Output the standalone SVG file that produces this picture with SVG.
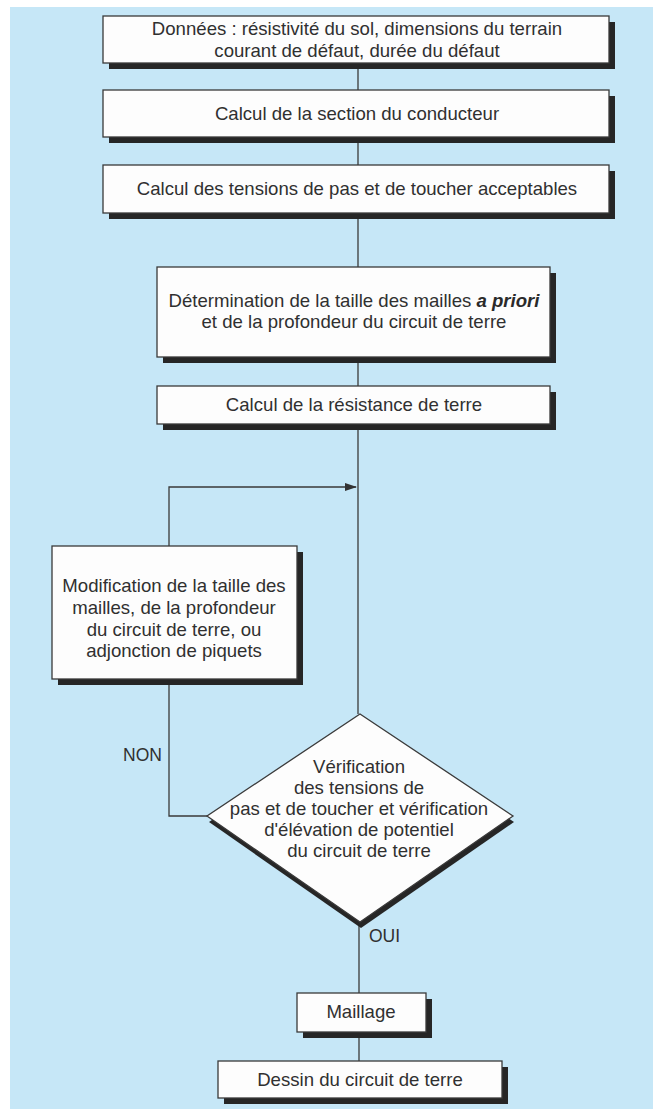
<svg xmlns="http://www.w3.org/2000/svg" width="662" height="1111" viewBox="0 0 662 1111">
<defs>
<style>
.bg{fill:#c6e7f7}
.box{fill:#fdfdfd;stroke:#3a3a3a;stroke-width:1.3}
.sh{fill:#262626}
.ln{fill:none;stroke:#3a3a3a;stroke-width:1.3}
text{font-family:"Liberation Sans",Arial,sans-serif;font-size:18.6px;fill:#303030;text-anchor:middle}
.lbl{font-size:17.5px}
.bi{font-weight:bold;font-style:italic;fill:#2a2a2a}
</style>
<marker id="arr" markerWidth="12" markerHeight="8" refX="11" refY="4" orient="auto" markerUnits="userSpaceOnUse">
<path d="M0,0 L12,4 L0,8 z" fill="#333"/>
</marker>
</defs>
<rect x="0" y="0" width="662" height="1111" fill="#ffffff"/>
<rect class="bg" x="10" y="7" width="643" height="1102"/>

<g id="connectors">
<line class="ln" x1="358" y1="63" x2="358" y2="90"/>
<line class="ln" x1="358" y1="137" x2="358" y2="165"/>
<line class="ln" x1="358" y1="213" x2="358" y2="267"/>
<line class="ln" x1="358" y1="357" x2="358" y2="386"/>
<line class="ln" x1="358" y1="424" x2="358" y2="714"/>
<polyline class="ln" points="169,546 169,487 356,487" marker-end="url(#arr)"/>
<polyline class="ln" points="207,816 169,816 169,679"/>
<line class="ln" x1="359" y1="922" x2="359" y2="993"/>
<line class="ln" x1="359" y1="1032" x2="359" y2="1061"/>
<text class="lbl" x="162" y="761" style="text-anchor:end">NON</text>
<text class="lbl" x="369" y="942" style="text-anchor:start">OUI</text>
</g>

<g id="n1">
<rect class="sh" x="109" y="22" width="506" height="47"/>
<rect class="box" x="103" y="16" width="506" height="47"/>
<text x="357" y="35">Données : résistivité du sol, dimensions du terrain</text>
<text x="357" y="57">courant de défaut, durée du défaut</text>
</g>

<g id="n2">
<rect class="sh" x="109" y="96" width="506" height="47"/>
<rect class="box" x="103" y="90" width="506" height="47"/>
<text x="357" y="120">Calcul de la section du conducteur</text>
</g>

<g id="n3">
<rect class="sh" x="109" y="171" width="506" height="48"/>
<rect class="box" x="103" y="165" width="506" height="48"/>
<text x="357" y="195">Calcul des tensions de pas et de toucher acceptables</text>
</g>

<g id="n4">
<rect class="sh" x="163" y="273" width="393" height="90"/>
<rect class="box" x="157" y="267" width="393" height="90"/>
<text x="354" y="307">Détermination de la taille des mailles <tspan class="bi">a priori</tspan></text>
<text x="354" y="328">et de la profondeur du circuit de terre</text>
</g>

<g id="n5">
<rect class="sh" x="163" y="392" width="393" height="38"/>
<rect class="box" x="157" y="386" width="393" height="38"/>
<text x="354" y="411">Calcul de la résistance de terre</text>
</g>

<g id="n6">
<rect class="sh" x="58" y="552" width="245" height="133"/>
<rect class="box" x="52" y="546" width="245" height="133"/>
<text x="174" y="592">Modification de la taille des</text>
<text x="174" y="614">mailles, de la  profondeur</text>
<text x="174" y="636">du circuit de terre, ou</text>
<text x="174" y="657">adjonction de piquets</text>
</g>

<g id="n7">
<polygon class="sh" points="362,720 514,822 361,928 209,822"/>
<polygon class="box" points="360,714 513,816 360,922 207,816"/>
<text x="359" y="773">Vérification</text>
<text x="359" y="794">des tensions de</text>
<text x="359" y="815">pas et de toucher et vérification</text>
<text x="359" y="836">d'élévation de potentiel</text>
<text x="359" y="857">du circuit de terre</text>
</g>

<g id="n8">
<rect class="sh" x="303" y="999" width="129" height="39"/>
<rect class="box" x="297" y="993" width="129" height="39"/>
<text x="361" y="1018">Maillage</text>
</g>

<g id="n9">
<rect class="sh" x="224" y="1067" width="284" height="37"/>
<rect class="box" x="218" y="1061" width="284" height="37"/>
<text x="360" y="1086">Dessin du circuit de terre</text>
</g>
</svg>
